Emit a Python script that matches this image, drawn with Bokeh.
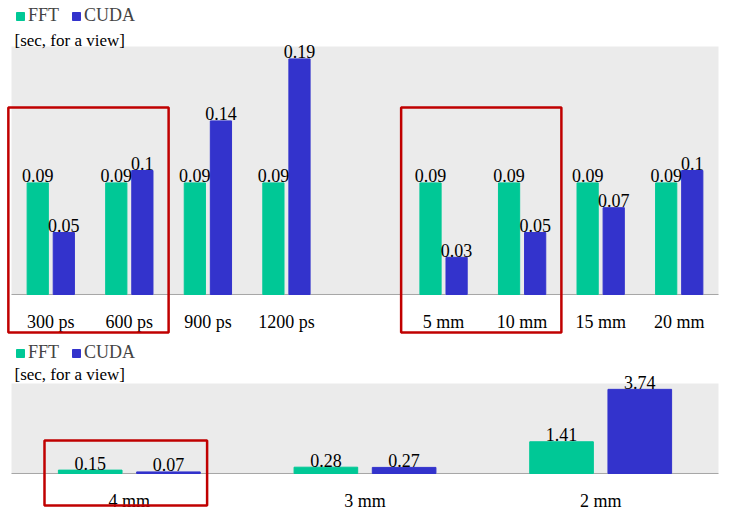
from bokeh.plotting import figure
from bokeh.models import FactorRange, Range1d, ColumnDataSource, Legend, LegendItem, Label
from bokeh.transform import dodge
from bokeh.layouts import column
from bokeh.embed import file_html
from bokeh.resources import INLINE

# ---------------- data ----------------
series_names = ["FFT", "CUDA"]
unit_label = "[sec, for a view]"

top_categories = ["300 ps", "600 ps", "900 ps", "1200 ps", "5 mm", "10 mm", "15 mm", "20 mm"]
top_fft = [0.09, 0.09, 0.09, 0.09, 0.09, 0.09, 0.09, 0.09]
top_cuda = [0.05, 0.10, 0.14, 0.19, 0.03, 0.05, 0.07, 0.10]
top_highlight = [("300 ps", "600 ps"), ("5 mm", "10 mm")]
top_ymax = 0.2

bottom_categories = ["4 mm", "3 mm", "2 mm"]
bottom_fft = [0.15, 0.28, 1.41]
bottom_cuda = [0.07, 0.27, 3.74]
bottom_highlight = [("4 mm", "4 mm")]
bottom_ymax = 4.0

# ---------------- style ----------------
FONT = "Liberation Serif"
FFT_COLOR = "#00C896"
CUDA_COLOR = "#3333CC"
BOX_COLOR = "#C00000"
BG = "#EBEBEB"
BASE = "#A6A6A6"
W = 729


def make_chart(factors, categories, fft, cuda, highlights, ymax, height,
               y_range, x_pad, box_y, box_dx, legend_xy, sub_xy):
    p = figure(width=W, height=height, x_range=FactorRange(*factors, range_padding=x_pad,
                                                           range_padding_units="absolute"),
               y_range=Range1d(*y_range), x_axis_location=None, y_axis_location=None,
               toolbar_location=None, output_backend="svg", min_border=0)
    p.min_border_left = p.min_border_right = p.min_border_top = p.min_border_bottom = 0
    p.outline_line_color = None
    p.grid.visible = False
    p.background_fill_color = "white"
    p.border_fill_color = "white"

    # background panel and baseline
    bg = ColumnDataSource(dict(l=[factors[0]], r=[factors[-1]], b=[0], t=[ymax]))
    p.quad(left=dodge("l", -0.5, range=p.x_range), right=dodge("r", 0.5, range=p.x_range),
           bottom="b", top="t", source=bg, fill_color=BG, line_color=None)
    p.segment(x0=dodge("l", -0.5, range=p.x_range), y0="b", x1=dodge("r", 0.5, range=p.x_range),
              y1="b", source=bg, line_color=BASE, line_width=1)

    src = ColumnDataSource(dict(
        cat=categories, fft=fft, cuda=cuda,
        fft_lbl=[f"{v:g}" for v in fft], cuda_lbl=[f"{v:g}" for v in cuda],
        zero=[0] * len(categories)))

    off, bw = 0.166, 0.27
    r1 = p.vbar(x=dodge("cat", -off, range=p.x_range), top="fft", width=bw, source=src,
                fill_color=FFT_COLOR, line_color=FFT_COLOR)
    r2 = p.vbar(x=dodge("cat", off, range=p.x_range), top="cuda", width=bw, source=src,
                fill_color=CUDA_COLOR, line_color=CUDA_COLOR)

    common = dict(text_font={"value": FONT}, text_font_size="18px", text_color="black",
                  text_align="center", text_baseline="alphabetic", source=src)
    p.text(x=dodge("cat", -off, range=p.x_range), y="fft", text="fft_lbl", y_offset=-7, **common)
    p.text(x=dodge("cat", off, range=p.x_range), y="cuda", text="cuda_lbl", y_offset=-7, **common)
    p.text(x="cat", y="zero", text="cat", y_offset=28, **common)

    # highlight boxes
    hb = ColumnDataSource(dict(l=[h[0] for h in highlights], r=[h[1] for h in highlights],
                               b=[box_y[0]] * len(highlights), t=[box_y[1]] * len(highlights)))
    p.quad(left=dodge("l", box_dx[0], range=p.x_range), right=dodge("r", box_dx[1], range=p.x_range),
           bottom="b", top="t", source=hb, fill_color=None, line_color=BOX_COLOR, line_width=2.5)

    legend = Legend(items=[LegendItem(label=series_names[0], renderers=[r1]),
                           LegendItem(label=series_names[1], renderers=[r2])],
                    location=legend_xy, orientation="horizontal", padding=0, margin=0,
                    spacing=12, label_standoff=3, glyph_width=10, glyph_height=10,
                    label_text_font=FONT, label_text_font_size="18px",
                    border_line_color=None, background_fill_alpha=0)
    p.add_layout(legend)

    p.add_layout(Label(x=sub_xy[0], y=sub_xy[1], x_units="screen", y_units="screen",
                       text=unit_label, text_font=FONT, text_font_size="17px",
                       text_baseline="middle", text_color="black"))
    return p


top_factors = top_categories[:4] + [" "] + top_categories[4:]
p1 = make_chart(top_factors, top_categories, top_fft, top_cuda, top_highlight, top_ymax,
                height=340, y_range=(-0.0371, 0.2371), x_pad=0.14,
                box_y=(-0.0306, 0.1508), box_dx=(-0.54, 0.5),
                legend_xy=(15, 314), sub_xy=(14, 300))
p2 = make_chart(bottom_categories, bottom_categories, bottom_fft, bottom_cuda, bottom_highlight,
                bottom_ymax, height=175, y_range=(-1.867, 5.911), x_pad=0.0467,
                box_y=(-1.42, 1.467), box_dx=(-0.36, 0.33),
                legend_xy=(15, 152), sub_xy=(14, 141))

layout = column(p1, p2, spacing=0)
open("out.html", "w").write(file_html(layout, INLINE))
